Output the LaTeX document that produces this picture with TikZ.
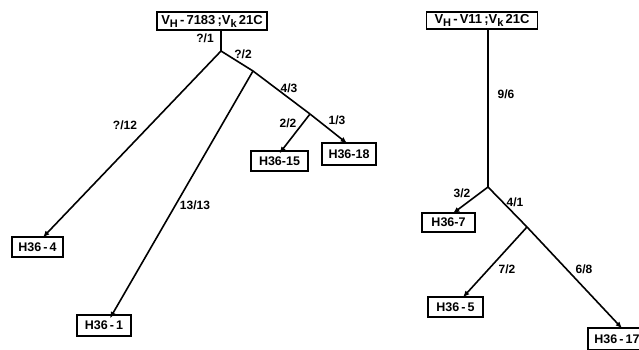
\documentclass[tikz,border=0pt]{standalone}
\usepackage{fontspec}
\setmainfont{Liberation Sans}
\usetikzlibrary{arrows.meta}
\newcommand{\lowsub}[1]{\raisebox{-3pt}{\fontsize{11}{11}\selectfont #1}}
\begin{document}
\begin{tikzpicture}[x=1pt,y=-1pt,
  line width=1.6pt,
  boxnode/.style={draw,line width=1.4pt,inner sep=0pt,font=\fontsize{12.5}{12.5}\selectfont\bfseries,anchor=center},
  topnode/.style={boxnode,font=\fontsize{13}{13}\selectfont\bfseries},
  lbl/.style={font=\fontsize{12}{12}\selectfont\bfseries,inner sep=0pt},
  arr/.style={-{Latex[length=6.5pt,width=5.5pt]}}]
\path[use as bounding box, clip] (0,0) rectangle (639,350);
% left tree
\node[topnode,minimum width=110pt,minimum height=18pt] (t1) at (212,21) {V\lowsub{H}\,-\,7183\,;V\lowsub{k}\,21C};
\coordinate (J1) at (221,51);
\coordinate (J2) at (253,71);
\coordinate (J3) at (310,114);
\node[boxnode,minimum width=51pt,minimum height=20pt] (h4) at (37.5,247) {H36\,-\,4};
\node[boxnode,minimum width=54pt,minimum height=21pt] (h1) at (104,325.5) {H36\,-\,1};
\node[boxnode,minimum width=57pt,minimum height=20pt] (h15) at (279.5,161) {H36-15};
\node[boxnode,minimum width=54pt,minimum height=22pt] (h18) at (349,154) {H36-18};
\draw (t1.south -| J1) -- (J1);
\draw[arr] (J1) -- ([xshift=5.5pt,yshift=-1pt]h4.north);
\draw (J1) -- (J2) -- (J3);
\draw[arr] (J2) -- ([xshift=6pt,yshift=-4pt]h1.north);
\draw[arr] (J3) -- ([yshift=-3pt]h15.north);
\draw[arr] (J3) -- ([xshift=-2pt,yshift=-1pt]h18.north);
\node[lbl] (l1) at (205,38) {?/1};
\node[lbl] (l2) at (243,54) {?/2};
\node[lbl] (l3) at (289,88) {4/3};
\node[lbl] (l4) at (125,125) {?/12};
\node[lbl] (l5) at (195,205) {13/13};
\node[lbl] (l6) at (288,123) {2/2};
\node[lbl] (l7) at (337,120) {1/3};
% right tree
\node[topnode,minimum width=111pt,minimum height=17pt] (t2) at (482,20.5) {V\lowsub{H}\,-\,V11\,;V\lowsub{k}\,21C};
\coordinate (J4) at (488,187);
\coordinate (J5) at (527,227);
\node[boxnode,minimum width=53pt,minimum height=19pt] (h7) at (448.5,222.5) {H36-7};
\node[boxnode,minimum width=55pt,minimum height=20pt] (h5) at (455.5,307) {H36\,-\,5};
\node[boxnode,minimum width=58pt,minimum height=22pt] (h17) at (617,339) {H36\,-\,17};
\draw (t2.south -| J4) -- (J4);
\draw[arr] (J4) -- ([xshift=4.5pt,yshift=-1pt]h7.north);
\draw (J4) -- (J5);
\draw[arr] (J5) -- ([xshift=7.5pt,yshift=-1pt]h5.north);
\draw[arr] (J5) -- ([xshift=5pt,yshift=-1pt]h17.north);
\node[lbl] (l8) at (506,94) {9/6};
\node[lbl] (l9) at (462,193) {3/2};
\node[lbl] (l10) at (515,202) {4/1};
\node[lbl] (l11) at (507,269) {7/2};
\node[lbl] (l12) at (584,269) {6/8};
\end{tikzpicture}
\end{document}
